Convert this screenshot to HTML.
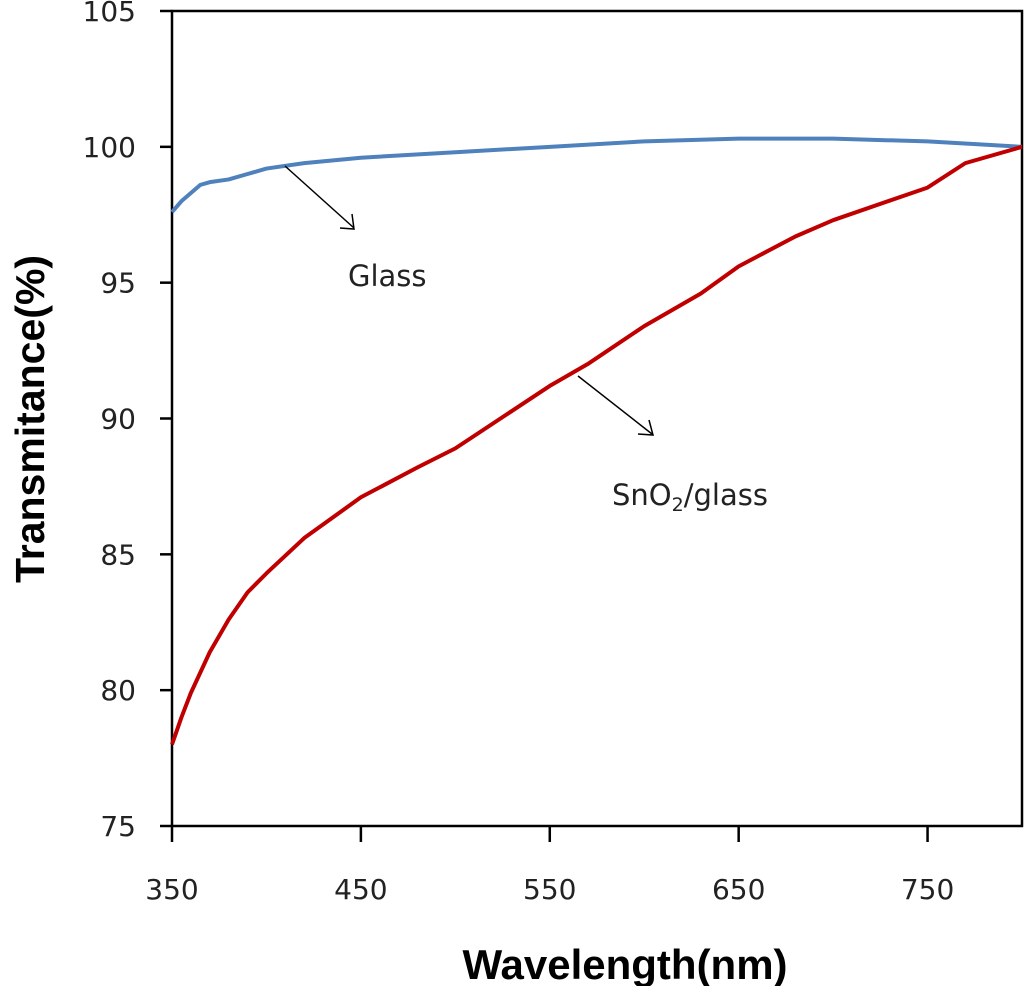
<!DOCTYPE html>
<html><head><meta charset="utf-8"><style>
body{margin:0;background:#fff;}
svg text{font-family:"DejaVu Sans","Liberation Sans",sans-serif;}
</style></head><body>
<svg width="1024" height="986" xmlns="http://www.w3.org/2000/svg">
<g id="axes"></g>
<g id="series"></g>
<line x1="285" y1="166" x2="354" y2="228" stroke="#000" stroke-width="1.5"/>
<polyline points="340,228 354,229 352,214" fill="none" stroke="#000" stroke-width="1.5"/>
<text x="348" y="286" font-size="29" fill="#222">Glass</text>
<line x1="578" y1="376" x2="652" y2="434" stroke="#000" stroke-width="1.5"/>
<polyline points="638,434 653,435 649,420" fill="none" stroke="#000" stroke-width="1.5"/>
<text x="612" y="505" font-size="29" fill="#222">SnO<tspan font-size="19" dy="6">2</tspan><tspan dy="-6">/glass</tspan></text>
<text x="625" y="979" font-size="42" font-weight="bold" text-anchor="middle" fill="#000" style="font-family:'Liberation Sans',sans-serif">Wavelength(nm)</text>
<text transform="translate(44,419) rotate(-90)" font-size="41" font-weight="bold" text-anchor="middle" fill="#000" style="font-family:'Liberation Sans',sans-serif">Transmitance(%)</text>
</svg>
<script>
const xTicks=[350,450,550,650,750];
const yTicks=[75,80,85,90,95,100,105];
const glassX=[350,355,360,365,370,380,390,400,420,450,500,550,600,650,700,750,800];
const glassY=[97.6,98.0,98.3,98.6,98.7,98.8,99.0,99.2,99.4,99.6,99.8,100.0,100.2,100.3,100.3,100.2,100.0];
const snX=[350,355,360,370,380,390,400,420,450,480,500,550,570,600,630,650,680,700,750,770,800];
const snY=[78.0,79.0,79.9,81.4,82.6,83.6,84.3,85.6,87.1,88.2,88.9,91.2,92.0,93.4,94.6,95.6,96.7,97.3,98.5,99.4,100.0];
const X=v=>172+(v-350)*(1022-172)/450;
const Y=v=>826-(v-75)*(826-11)/30;
const NS='http://www.w3.org/2000/svg';
function mk(t,a,p){const e=document.createElementNS(NS,t);for(const k in a)e.setAttribute(k,a[k]);p.appendChild(e);return e;}
const ax=document.getElementById('axes');
let f=mk('rect',{x:X(350),y:Y(105),width:X(800)-X(350),height:Y(75)-Y(105),fill:'none',stroke:'#000','stroke-width':2.5},ax);


yTicks.forEach(v=>{
 let l=mk('line',{x1:160,x2:X(350),y1:Y(v),y2:Y(v),stroke:'#000','stroke-width':2.5},ax);
 
 
 let t=mk('text',{x:136,y:Y(v)+10,'font-size':28,'text-anchor':'end',fill:'#222'},ax);
 t.textContent=v;
 
 
});
xTicks.forEach(v=>{
 let l=mk('line',{x1:X(v),x2:X(v),y1:Y(75),y2:842,stroke:'#000','stroke-width':2.5},ax);
 
 
 let t=mk('text',{x:X(v),y:899,'font-size':28,'text-anchor':'middle',fill:'#222'},ax);
 t.textContent=v;
 
 
});
const sg=document.getElementById('series');
let g=mk('polyline',{points:glassX.map((x,i)=>X(x)+','+Y(glassY[i])).join(' '),fill:'none',stroke:'#4f81bd','stroke-width':4,'stroke-linejoin':'round'},sg);


let s=mk('polyline',{points:snX.map((x,i)=>X(x)+','+Y(snY[i])).join(' '),fill:'none',stroke:'#c00000','stroke-width':4,'stroke-linejoin':'round'},sg);


</script>
</body></html>
